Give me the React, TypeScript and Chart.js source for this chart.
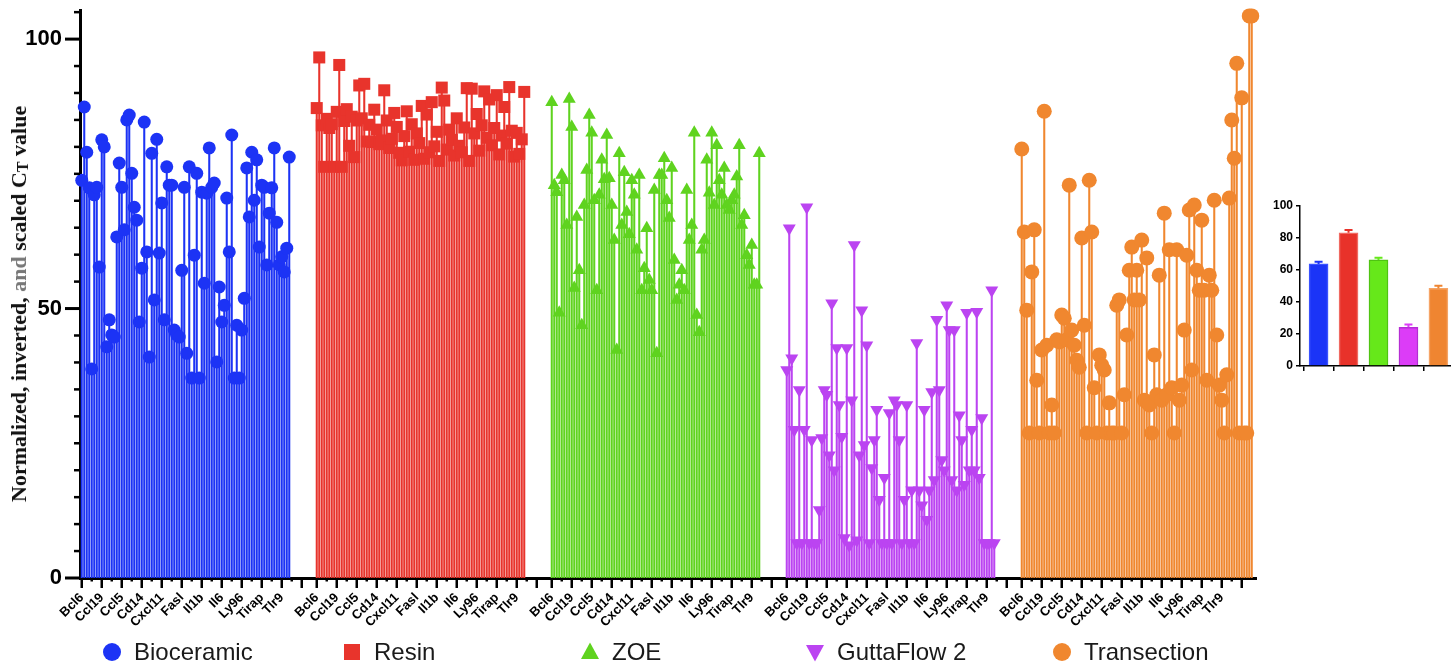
import React, { useEffect, useRef } from 'react';
import { Chart, registerables } from 'chart.js';

Chart.register(...registerables);

const SANS = 'Arial, "Liberation Sans", Helvetica, sans-serif';
const SERIF = '"Liberation Serif", "Times New Roman", Times, serif';

// Array genes, in plate order
const genes = [
  'Bcl6', 'C3', 'C3ar1', 'C4b', 'Casp1', 'Ccl1', 'Ccl11', 'Ccl17',
  'Ccl19', 'Ccl2', 'Ccl20', 'Ccl22', 'Ccl24', 'Ccl25', 'Ccl3', 'Ccl4',
  'Ccl5', 'Ccl7', 'Ccl8', 'Ccr1', 'Ccr2', 'Ccr3', 'Ccr4', 'Ccr7',
  'Cd14', 'Cd40', 'Cd40lg', 'Cebpb', 'Crp', 'Csf1', 'Cxcl1', 'Cxcl10',
  'Cxcl11', 'Cxcl2', 'Cxcl3', 'Cxcl5', 'Cxcl9', 'Cxcr2', 'Cxcr4', 'Fas',
  'Fasl', 'Ifng', 'Il10', 'Il13', 'Il15', 'Il17a', 'Il18', 'Il1a',
  'Il1b', 'Il1r1', 'Il1rap', 'Il1rn', 'Il22', 'Il23a', 'Il4', 'Il5',
  'Il6', 'Il6ra', 'Il6st', 'Il9', 'Itgb2', 'Kng1', 'Lta', 'Ltb',
  'Ly96', 'Myd88', 'Nfkb1', 'Nos2', 'Nr3c1', 'Ptgs2', 'Ripk2', 'Stat3',
  'Tirap', 'Tlr1', 'Tlr2', 'Tlr3', 'Tlr4', 'Tlr5', 'Tlr6', 'Tlr7',
  'Tlr9', 'Tnf', 'Tnfsf14', 'Tollip',
];

// Reference and control rows that were only run for the transection samples
const controlRows = ['Actb', 'B2m', 'Gapdh', 'Gusb', 'Hsp90ab1', 'MGDC', 'RTC-1', 'RTC-2', 'PPC'];

// Genes named on the x axis (every eighth row)
const axisGeneLabels = ['Bcl6', 'Ccl19', 'Ccl5', 'Cd14', 'Cxcl11', 'Fasl', 'Il1b', 'Il6', 'Ly96', 'Tirap', 'Tlr9'];

const groupNames = ['Bioceramic', 'Resin', 'ZOE', 'GuttaFlow 2', 'Transection'];

// Normalized, inverted and scaled CT values per gene
const bioceramicValues = [
  73.8, 87.4, 79.0, 72.4, 38.8, 71.1, 72.5, 57.7, 81.3, 80.0,
  42.9, 47.9, 45.1, 44.7, 63.3, 77.0, 72.5, 64.6, 85.0, 85.9,
  75.1, 68.8, 66.4, 47.5, 57.5, 84.6, 60.5, 41.0, 78.8, 51.6,
  81.4, 60.3, 69.6, 47.9, 76.3, 72.9, 72.9, 46.0, 45.1, 44.7,
  57.1, 72.5, 41.7, 76.3, 37.1, 59.9, 75.1, 37.1, 71.6, 54.7,
  71.4, 79.8, 72.5, 73.3, 40.1, 54.0, 47.5, 50.6, 70.5, 60.5,
  82.2, 37.1, 46.9, 37.1, 46.0, 51.9, 76.1, 67.0, 79.0, 70.1,
  77.6, 61.4, 72.9, 72.5, 58.1, 67.7, 72.4, 79.8, 66.0, 58.1,
  59.6, 56.8, 61.2, 78.1,
];

const resinValues = [
  87.2, 96.6, 84.0, 76.3, 85.2, 83.5, 84.2, 76.3, 86.5, 95.2,
  76.3, 84.8, 87.0, 80.2, 85.6, 78.1, 84.9, 91.4, 85.3, 91.7,
  81.0, 84.1, 80.9, 86.9, 83.2, 80.5, 81.2, 90.5, 84.9, 79.8,
  81.5, 86.3, 83.7, 78.9, 77.5, 82.0, 86.6, 79.1, 84.2, 77.6,
  82.5, 80.7, 87.6, 77.8, 86.0, 79.0, 88.3, 80.1, 82.8, 77.4,
  91.0, 88.6, 79.5, 83.2, 81.3, 78.4, 85.3, 80.2, 79.0, 83.6,
  90.9, 77.4, 90.8, 82.5, 86.1, 79.3, 84.0, 90.3, 81.7, 88.8,
  80.3, 83.5, 89.6, 78.6, 82.1, 87.4, 80.6, 91.1, 83.0, 78.2,
  82.6, 78.7, 81.4, 90.2,
];

const zoeValues = [
  88.3, 72.9, 71.6, 49.2, 74.8, 73.8, 65.5, 88.9, 83.7, 53.8,
  67.0, 57.1, 46.9, 69.2, 75.7, 85.9, 82.6, 70.1, 53.4, 71.1,
  77.6, 74.0, 82.2, 74.2, 69.2, 62.7, 42.3, 78.8, 65.5, 75.3,
  67.9, 63.8, 73.8, 71.1, 60.9, 74.8, 53.4, 57.5, 64.9, 55.3,
  53.4, 72.0, 41.7, 74.8, 74.8, 77.9, 70.1, 66.8, 76.1, 59.0,
  51.6, 54.4, 57.1, 53.4, 72.0, 62.7, 65.5, 82.6, 48.8, 45.6,
  60.9, 62.7, 77.6, 71.5, 82.6, 69.2, 80.3, 73.8, 71.1, 76.1,
  69.2, 68.3, 70.1, 71.1, 74.5, 80.3, 65.5, 67.3, 59.9, 58.1,
  61.8, 54.4, 54.4, 78.8,
];

const guttaFlowValues = [
  38.6, 64.9, 40.8, 27.5, 6.5, 34.9, 6.5, 27.5, 68.8, 6.5,
  25.6, 6.5, 6.5, 12.6, 26.0, 34.9, 34.0, 22.8, 51.0, 20.0,
  42.7, 32.1, 26.2, 7.4, 42.7, 6.1, 33.0, 61.8, 7.0, 22.8,
  49.7, 24.7, 43.2, 6.5, 20.4, 25.6, 31.2, 14.5, 6.5, 18.6,
  6.5, 30.6, 6.5, 33.0, 32.1, 25.6, 6.5, 14.5, 32.1, 6.5,
  16.3, 6.5, 43.6, 16.3, 13.5, 31.2, 10.8, 16.3, 34.5, 18.2,
  47.9, 34.9, 21.9, 20.0, 50.6, 46.0, 18.2, 46.0, 16.3, 30.2,
  25.6, 17.3, 49.2, 20.0, 27.5, 20.0, 49.4, 18.6, 29.7, 6.5,
  6.5, 6.5, 53.4, 6.5,
];

const transectionValues = [
  79.6, 64.2, 49.7, 26.9, 56.8, 64.6, 36.7, 26.9, 42.3, 86.6,
  43.2, 26.9, 32.1, 26.9, 44.2, 43.8, 48.8, 48.2, 44.2, 72.9,
  46.0, 43.2, 40.4, 39.1, 63.1, 46.9, 26.9, 73.8, 64.2, 35.3,
  26.9, 41.4, 39.5, 38.6, 26.9, 32.5, 26.9, 26.9, 50.6, 51.6,
  26.9, 34.0, 45.1, 57.1, 61.4, 51.6, 57.1, 51.6, 62.7, 33.0,
  59.4, 32.1, 26.9, 41.4, 34.0, 56.2, 33.0, 67.7, 34.0, 60.9,
  35.3, 26.9, 60.9, 33.0, 35.8, 46.0, 59.9, 68.3, 38.6, 69.2,
  57.1, 53.4, 66.4, 53.4, 36.7, 56.2, 53.4, 70.1, 45.1, 35.8,
  33.0, 26.9, 37.7, 70.5, 85.0, 77.9, 95.5, 26.9, 89.1, 26.9,
  26.9, 104.3, 104.3,
];

// Group means and their SEM for the summary bar chart
const summaryMeans = [63.8, 83.3, 66.3, 24.2, 48.5];
const summaryErrors = [1.4, 1.7, 1.4, 1.8, 1.7];

const seriesValues = [bioceramicValues, resinValues, zoeValues, guttaFlowValues, transectionValues];

// Styling
const groupColors = ['#1c33f5', '#e8342c', '#5fd31f', '#bb44f1', '#f0872f'];
const insetFill = ['#1b34f7', '#e8322a', '#66e81a', '#dc3cf7', '#ef8531'];
const insetEdge = ['#3a52ff', '#f06a62', '#4fc412', '#b52dd4', '#f5a466'];
const markerStyle = ['circle', 'rect', 'triangle', 'triangle', 'circle'];
const markerRotation = [0, 0, 0, 180, 0];
const markerRadius = [6.5, 8.5, 7.5, 7.5, 7.5];

const GAP_ROWS = 10;
const groupStep = genes.length + GAP_ROWS;

const tickLabelAt = new Map<number, string>();
const majorTicks: number[] = [];
const minorTicks: number[] = [];
groupNames.forEach((_, g) => {
  const start = g * groupStep;
  genes.forEach((name, i) => {
    if (i % 8 === 0 && axisGeneLabels.includes(name)) tickLabelAt.set(start + i, name);
  });
  for (let k = 0; k <= 88; k += 8) majorTicks.push(start + k);
  for (let k = 4; k <= 84; k += 8) minorTicks.push(start + k);
});

const yTickValues: number[] = [];
for (let v = 0; v <= 105; v += 5) yTickValues.push(v);

// keeps tick-label overhang from shrinking the plotting area
const noScalePadding = (s: any) => {
  s.paddingLeft = 0;
  s.paddingRight = 0;
  s.paddingTop = 0;
  s.paddingBottom = 0;
};

const axisMarks = {
  id: 'axisMarks',
  afterDraw(chart: any) {
    const { ctx, chartArea, scales } = chart;
    const x = scales.x;
    const y = scales.y;
    ctx.save();
    ctx.strokeStyle = '#000';
    ctx.lineCap = 'butt';
    yTickValues.forEach((v) => {
      const py = y.getPixelForValue(v);
      const major = v % 50 === 0;
      ctx.lineWidth = major ? 3 : 2.5;
      ctx.beginPath();
      ctx.moveTo(chartArea.left, py);
      ctx.lineTo(chartArea.left - (major ? 15 : 6), py);
      ctx.stroke();
    });
    ctx.lineWidth = 2.5;
    majorTicks.forEach((v) => {
      const px = x.getPixelForValue(v);
      ctx.beginPath();
      ctx.moveTo(px, chartArea.bottom);
      ctx.lineTo(px, chartArea.bottom + 10);
      ctx.stroke();
    });
    minorTicks.forEach((v) => {
      const px = x.getPixelForValue(v);
      ctx.beginPath();
      ctx.moveTo(px, chartArea.bottom);
      ctx.lineTo(px, chartArea.bottom + 3.5);
      ctx.stroke();
    });
    ctx.restore();
  },
};

const errorBars = {
  id: 'errorBars',
  afterDatasetsDraw(chart: any) {
    const { ctx, scales } = chart;
    const meta = chart.getDatasetMeta(0);
    ctx.save();
    meta.data.forEach((bar: any, i: number) => {
      const top = scales.y.getPixelForValue(summaryMeans[i] + summaryErrors[i]);
      ctx.strokeStyle = insetFill[i];
      ctx.lineWidth = 2;
      ctx.beginPath();
      ctx.moveTo(bar.x, bar.y);
      ctx.lineTo(bar.x, top);
      ctx.moveTo(bar.x - 4, top);
      ctx.lineTo(bar.x + 4, top);
      ctx.stroke();
    });
    ctx.restore();
  },
};

function LegendMarker({ index }: { index: number }) {
  const color = groupColors[index];
  let shape: any;
  if (index === 1) shape = <rect x={-8} y={-8} width={16} height={16} fill={color} />;
  else if (index === 2) shape = <polygon points="0,-9.5 9,7 -9,7" fill={color} />;
  else if (index === 3) shape = <polygon points="0,9.5 9,-7 -9,-7" fill={color} />;
  else shape = <circle cx={0} cy={0} r={9} fill={color} />;
  return (
    <svg width={20} height={20} viewBox="-10 -10 20 20" style={{ display: 'block' }}>
      {shape}
    </svg>
  );
}

const legendCentres = [112, 352, 590, 815, 1062];

export default function App() {
  const mainRef = useRef<HTMLCanvasElement>(null);
  const insetRef = useRef<HTMLCanvasElement>(null);

  useEffect(() => {
    const datasets: any[] = [];
    seriesValues.forEach((vals, g) => {
      const pts = vals.map((v, i) => ({ x: g * groupStep + i, y: v }));
      datasets.push({
        type: 'bar',
        label: groupNames[g],
        data: pts,
        backgroundColor: groupColors[g],
        borderWidth: 0,
        barThickness: 1.4,
        grouped: false,
        order: 2,
      });
      datasets.push({
        type: 'scatter',
        label: groupNames[g],
        data: pts,
        pointStyle: markerStyle[g],
        rotation: markerRotation[g],
        pointRadius: markerRadius[g],
        backgroundColor: groupColors[g],
        borderColor: groupColors[g],
        borderWidth: 0,
        clip: false,
        order: 1,
      });
    });

    const main = new Chart(mainRef.current as HTMLCanvasElement, {
      type: 'bar',
      data: { datasets },
      options: {
        animation: false,
        responsive: false,
        devicePixelRatio: 1,
        events: [],
        layout: { padding: { left: 0, right: 14, top: 10, bottom: 0 } },
        plugins: { legend: { display: false }, tooltip: { enabled: false } },
        scales: {
          x: {
            type: 'linear',
            offset: false,
            min: -0.7,
            max: 469.7,
            afterBuildTicks: (s: any) => {
              s.ticks = majorTicks.map((v) => ({ value: v }));
            },
            afterFit: (s: any) => {
              s.height = 89;
              noScalePadding(s);
            },
            grid: { display: false, drawTicks: false },
            border: { display: true, color: '#000', width: 3 },
            ticks: {
              autoSkip: false,
              minRotation: 45,
              maxRotation: 45,
              padding: 12,
              color: '#000',
              font: { family: SANS, size: 13, weight: 'bold' },
              callback: (v: any) => tickLabelAt.get(Number(v)) ?? null,
            },
          },
          y: {
            type: 'linear',
            min: 0,
            max: 105.4,
            afterBuildTicks: (s: any) => {
              s.ticks = yTickValues.map((v) => ({ value: v }));
            },
            afterFit: (s: any) => {
              s.width = 80;
              noScalePadding(s);
            },
            grid: { display: false, drawTicks: false },
            border: { display: true, color: '#000', width: 3 },
            ticks: {
              padding: 18,
              color: '#000',
              font: { family: SANS, size: 22, weight: 'bold' },
              callback: (v: any) => (Number(v) % 50 === 0 ? String(v) : null),
            },
          },
        },
      } as any,
      plugins: [axisMarks],
    });

    const inset = new Chart(insetRef.current as HTMLCanvasElement, {
      type: 'bar',
      data: {
        datasets: [
          {
            label: 'Mean',
            data: summaryMeans.map((m, i) => ({ x: i, y: m })),
            backgroundColor: insetFill,
            borderColor: insetEdge,
            borderWidth: 1.5,
            barThickness: 19,
          },
        ],
      },
      options: {
        animation: false,
        responsive: false,
        devicePixelRatio: 1,
        events: [],
        layout: { padding: { left: 0, right: 0, top: 16, bottom: 0 } },
        plugins: { legend: { display: false }, tooltip: { enabled: false } },
        scales: {
          x: {
            type: 'linear',
            offset: false,
            min: -0.62,
            max: 4.42,
            afterBuildTicks: (s: any) => {
              s.ticks = [0, 1, 2, 3, 4].map((v) => ({ value: v }));
            },
            afterFit: (s: any) => {
              s.height = 14;
              noScalePadding(s);
            },
            grid: { drawOnChartArea: false, drawTicks: true, tickLength: 5, color: '#000', lineWidth: 1.5 },
            border: { color: '#000', width: 1.5 },
            ticks: { callback: () => '', padding: 0 },
          },
          y: {
            min: 0,
            max: 100,
            ticks: {
              stepSize: 20,
              padding: 3,
              color: '#000',
              font: { family: SANS, size: 12, weight: 'bold' },
            },
            afterFit: (s: any) => {
              s.width = 30;
              noScalePadding(s);
            },
            grid: { drawOnChartArea: false, drawTicks: true, tickLength: 4, color: '#000', lineWidth: 1.5 },
            border: { color: '#000', width: 1.5 },
          },
        },
      } as any,
      plugins: [errorBars],
    });

    return () => {
      main.destroy();
      inset.destroy();
    };
  }, []);

  return (
    <div
      style={{
        position: 'fixed',
        left: 0,
        top: 0,
        width: 1451,
        height: 667,
        background: '#fff',
        overflow: 'hidden',
        fontFamily: SANS,
      }}
    >
      <canvas
        ref={mainRef}
        width={1270}
        height={667}
        style={{ position: 'absolute', left: 0, top: 0, display: 'block' }}
      />
      <canvas
        ref={insetRef}
        width={181}
        height={190}
        style={{ position: 'absolute', left: 1270, top: 190, display: 'block' }}
      />
      <div
        style={{
          position: 'absolute',
          left: 20,
          top: 304,
          transform: 'translate(-50%, -50%) rotate(-90deg)',
          whiteSpace: 'nowrap',
          fontFamily: SERIF,
          fontWeight: 'bold',
          fontSize: 22,
          color: '#111',
          lineHeight: '24px',
        }}
      >
        Normalized, inverted, <span style={{ color: '#777' }}>and</span> scaled C
        <span style={{ fontSize: '0.72em', position: 'relative', top: 2 }}>T</span> value
      </div>
      {groupNames.map((name, i) => (
        <div
          key={name}
          style={{
            position: 'absolute',
            left: legendCentres[i] - 10,
            top: 638,
            height: 28,
            display: 'flex',
            alignItems: 'center',
            whiteSpace: 'nowrap',
          }}
        >
          <LegendMarker index={i} />
          <span style={{ marginLeft: 12, fontSize: 24, color: '#1a1a1a', fontFamily: SANS }}>{name}</span>
        </div>
      ))}
    </div>
  );
}
